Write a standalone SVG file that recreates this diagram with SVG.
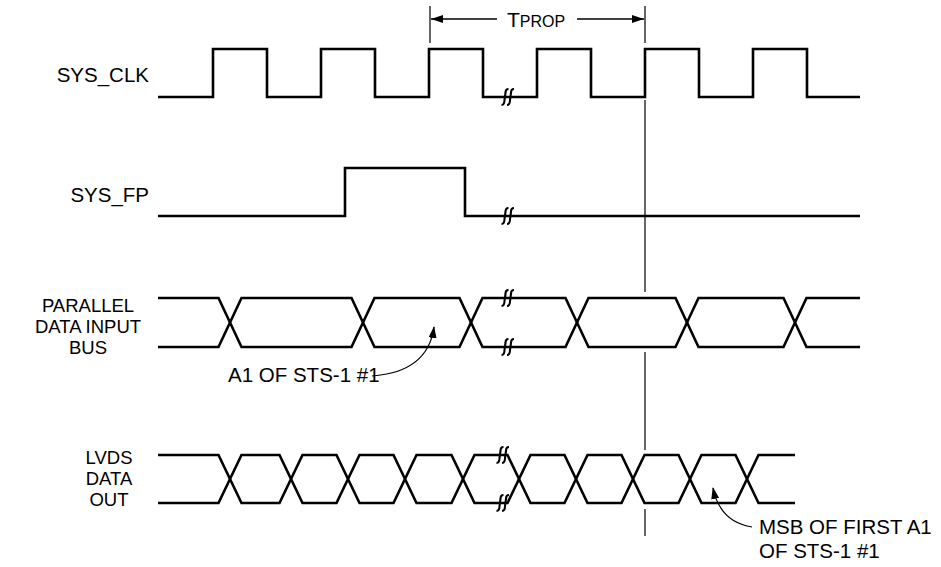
<svg xmlns="http://www.w3.org/2000/svg" xmlns:xlink="http://www.w3.org/1999/xlink" width="941" height="567" viewBox="0 0 941 567">
<style>
.wave{fill:none;stroke:#000;stroke-width:2.6;stroke-linejoin:miter;stroke-linecap:butt}
.ref{fill:none;stroke:#000;stroke-width:1.2}
.dim{fill:none;stroke:#000;stroke-width:1.4}
.brk{fill:none;stroke:#000;stroke-width:2.1}
.lbl{font-family:"Liberation Sans",Arial,Helvetica,sans-serif;font-size:20.5px;fill:#000}
.ml{font-size:18.5px}
.lead{fill:none;stroke:#000;stroke-width:1.2}
</style>
<defs>
<marker id="ah" viewBox="0 0 12 8" refX="12" refY="4" markerWidth="12" markerHeight="8" markerUnits="userSpaceOnUse" orient="auto-start-reverse">
<path d="M0,0 L12,4 L0,8 z" fill="#000"/>
</marker>
<marker id="ah2" viewBox="0 0 12 8" refX="11" refY="4" markerWidth="12" markerHeight="8" markerUnits="userSpaceOnUse" orient="auto">
<path d="M0,0 L12,4 L0,8 z" fill="#000"/>
</marker>
<g id="brk">
<path class="brk" d="M1.5 -8 Q-1.5 -8 -1.5 -4 L-2.5 3 Q-2.5 8 -5.5 8"/>
<path class="brk" d="M7 -8 Q4 -8 4 -4 L3 3 Q3 8 0 8"/>
</g>
</defs>

<g id="labels">
<text class="lbl" x="149" y="82" text-anchor="end">SYS_CLK</text>
<text class="lbl" x="149" y="202" text-anchor="end">SYS_FP</text>
<text class="lbl ml" text-anchor="middle"><tspan x="88" y="312">PARALLEL</tspan><tspan x="88" y="333">DATA INPUT</tspan><tspan x="88" y="354">BUS</tspan></text>
<text class="lbl ml" text-anchor="middle"><tspan x="109" y="464">LVDS</tspan><tspan x="109" y="485">DATA</tspan><tspan x="109" y="506">OUT</tspan></text>
</g>

<g id="tprop">
<line class="ref" x1="430" y1="6" x2="430" y2="43"/>
<line class="dim" x1="497" y1="19" x2="431" y2="19" marker-end="url(#ah)"/>
<line class="dim" x1="577" y1="19" x2="644" y2="19" marker-end="url(#ah)"/>
<text class="lbl" x="507" y="27"><tspan font-size="21">T</tspan><tspan font-size="16">PROP</tspan></text>
</g>

<g id="refline">
<path class="ref" d="M645 6 V43 M645 100 V292 M645 352 V450 M645 509 V536"/>
</g>

<g id="sys_clk">
<path class="wave" d="M158 97 H213 V49 H267 V97 H321 V49 H375 V97 H429 V49 H483 V97 H537 V49 H591 V97 H645 V49 H699 V97 H753 V49 H807 V97 H860"/>
<use xlink:href="#brk" x="507" y="97"/>
</g>

<g id="sys_fp">
<path class="wave" d="M158 216 H345 V168 H465 V216 H860"/>
<use xlink:href="#brk" x="507" y="216"/>
</g>

<g id="parallel_bus">
<path class="wave" d="M158 298 H218.5 L241.5 347 H351.5 L374.5 298 H459.5 L482.5 347 H565.5 L588.5 298 H675.5 L698.5 347 H783.5 L806.5 298 H860"/>
<path class="wave" d="M158 347 H218.5 L241.5 298 H351.5 L374.5 347 H459.5 L482.5 298 H565.5 L588.5 347 H675.5 L698.5 298 H783.5 L806.5 347 H860"/>
<use xlink:href="#brk" x="507" y="298"/>
<use xlink:href="#brk" x="507" y="347"/>
</g>

<g id="lvds_out">
<path class="wave" d="M158 455 H218.5 L241.5 503 H279.5 L302.5 455 H336.5 L359.5 503 H393.5 L416.5 455 H451.5 L474.5 503 H507.5 L530.5 455 H564.5 L587.5 503 H621.5 L644.5 455 H678.5 L701.5 503 H735.5 L758.5 455 H795"/>
<path class="wave" d="M158 503 H218.5 L241.5 455 H279.5 L302.5 503 H336.5 L359.5 455 H393.5 L416.5 503 H451.5 L474.5 455 H507.5 L530.5 503 H564.5 L587.5 455 H621.5 L644.5 503 H678.5 L701.5 455 H735.5 L758.5 503 H795"/>
<use xlink:href="#brk" x="502" y="455"/>
<use xlink:href="#brk" x="502" y="503"/>
</g>

<g id="note_a1">
<text class="lbl" x="228" y="382">A1 OF STS-1 #1</text>
<path class="lead" d="M372 376 Q428 372 434 327" marker-end="url(#ah2)"/>
</g>

<g id="note_msb">
<text class="lbl"><tspan x="759" y="534">MSB OF FIRST A1</tspan><tspan x="759" y="558">OF STS-1 #1</tspan></text>
<path class="lead" d="M752 527 Q720 522 713 488" marker-end="url(#ah2)"/>
</g>
</svg>
